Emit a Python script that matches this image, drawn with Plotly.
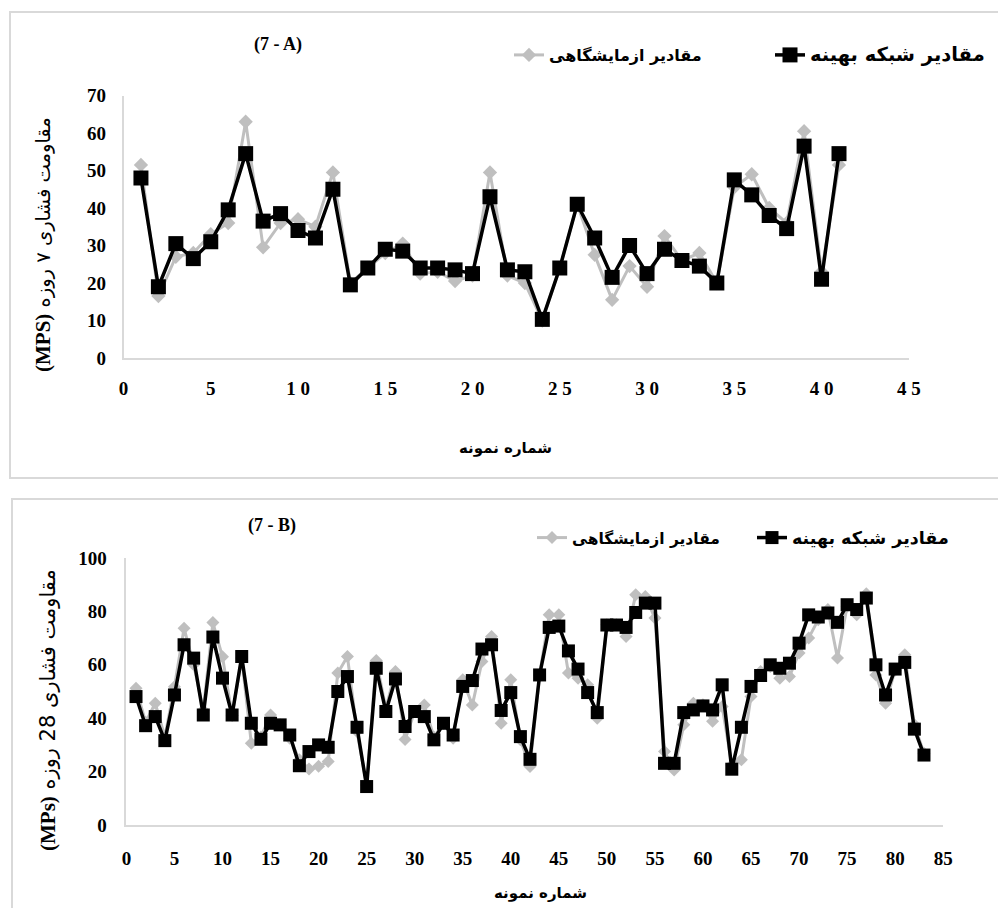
import plotly.graph_objects as go

# ---------------- data ----------------
A_x = list(range(1, 42))
A_exp = [51.5, 16.5, 27, 28, 33, 36, 63, 29.5, 36, 37, 35, 49.5, 20, 24, 28, 30.5, 22.5, 23, 20.5, 22,
         49.5, 22, 20, 10, 24, 41, 27.5, 15.5, 24.5, 19, 32.5, 26, 28, 20, 45.5, 49, 40, 36, 60.5, 23, 51.5]
A_net = [48, 19, 30.5, 26.5, 31, 39.5, 54.5, 36.5, 38.5, 34, 32, 45, 19.5, 24, 29, 28.5, 24, 24, 23.5, 22.5,
         43, 23.5, 23, 10.3, 24, 41, 32, 21.5, 30, 22.5, 29, 26, 24.5, 20, 47.5, 43.5, 38, 34.5, 56.5, 21, 54.5]
A_xticks = [0, 5, 10, 15, 20, 25, 30, 35, 40, 45]
A_xticktext = ["0", "5", "1 0", "1 5", "2 0", "2 5", "3 0", "3 5", "4 0", "4 5"]

B_x = list(range(1, 84))
B_net = [48.1, 37.2, 40.6, 31.6, 48.7, 67.5, 62.5, 41.2, 70.4, 55, 41.2, 63.1, 38.1, 32.1, 38.1, 37.5, 33.7,
         22.2, 27.5, 30, 29.1, 50, 55.6, 36.6, 14.4, 58.7, 42.5, 54.7, 36.9, 42.5, 40.6, 31.9, 38.1, 33.7,
         51.9, 54.1, 65.9, 67.5, 42.9, 49.6, 33.1, 24.6, 56.2, 74, 74.5, 65.2, 58.4, 49.6, 42.1, 74.9, 74.9,
         74, 79.6, 83.1, 83.1, 23.1, 23.1, 42.1, 43.1, 44.6, 43.1, 52.5, 20.9, 36.6, 51.9, 56, 60, 58.7,
         60.6, 68.1, 78.7, 77.9, 79.4, 75.9, 82.5, 80.7, 85, 60, 48.7, 58.4, 60.9, 35.9, 26.2]
B_exp = [51.2, 38.5, 45.6, 33, 51.8, 73.7, 60, 43, 75.8, 63, 41, 62.5, 30.6, 33, 41.2, 37.5, 32.5,
         24.4, 21, 22, 23.8, 56.9, 63.1, 35, 15, 61.6, 43.7, 57.5, 32, 42.5, 44.9, 33, 38, 32.5,
         54.4, 44.9, 61.2, 70.6, 38.1, 54.4, 31.9, 21.9, 56.2, 78.7, 78.7, 56.9, 55, 52.5, 40, 75, 75,
         70.6, 86.2, 85.6, 77.5, 27.5, 20.6, 37.5, 45.6, 45, 38.9, 44.4, 22.5, 24.4, 48.1, 57.5, 59.4, 55,
         55.6, 64.4, 70, 76.9, 80.7, 62.5, 81.9, 78.7, 86.6, 56.2, 45.6, 58, 63.8, 37.5, 26.9]

name_exp = "مقادیر ازمایشگاهی"
name_net = "مقادیر شبکه بهینه"
title_A = "(7 - A)"
title_B = "(7 - B)"
xtitle = "شماره نمونه"
ytitle_A = "<span style='font-family:Liberation Serif;font-weight:bold;font-size:21px'>(MPS)</span> مقاومت فشاری ۷ روزه"
ytitle_B = "<span style='font-family:Liberation Serif;font-weight:bold;font-size:21px'>(MPs)</span> مقاومت فشاری 28 روزه"

# page is 1006x916; the html body has an 8px margin, so the figure is 990x900
OFF = 8
W, H = 990, 900
GRAY = "#BFBFBF"
AXC = "#D9D9D9"
PER = "DejaVu Sans"
SER = "Liberation Serif"


def px(x):
    return (x - OFF) / W


def py(y):
    return 1 - (y - OFF) / H


def big(s, size):
    return "<span style='font-size:%spx'>%s</span>" % (size, s)


fig = go.Figure()
fig.add_trace(go.Scatter(x=A_x, y=A_exp, name=name_exp, mode="lines+markers", xaxis="x", yaxis="y",
                         line=dict(color=GRAY, width=3), marker=dict(symbol="diamond", size=11, color=GRAY),
                         legend="legend", cliponaxis=False))
fig.add_trace(go.Scatter(x=A_x, y=A_net, name=big(name_net, 19.5), mode="lines+markers", xaxis="x", yaxis="y",
                         line=dict(color="black", width=3.5), marker=dict(symbol="square", size=15, color="black"),
                         legend="legend", cliponaxis=False))
fig.add_trace(go.Scatter(x=B_x, y=B_exp, name=name_exp, mode="lines+markers", xaxis="x2", yaxis="y2",
                         line=dict(color=GRAY, width=3), marker=dict(symbol="diamond", size=10, color=GRAY),
                         legend="legend2", cliponaxis=False))
fig.add_trace(go.Scatter(x=B_x, y=B_net, name=big(name_net, 17.5), mode="lines+markers", xaxis="x2", yaxis="y2",
                         line=dict(color="black", width=3.5), marker=dict(symbol="square", size=13, color="black"),
                         legend="legend2", cliponaxis=False))

tickf = dict(family=SER, size=19, color="black", weight="bold")
common = dict(showgrid=False, zeroline=False, showline=True, linecolor=AXC, linewidth=1.5, ticks="",
              tickfont=tickf, fixedrange=True, automargin=False)

ann_base = dict(xref="paper", yref="paper", showarrow=False, xanchor="center", yanchor="middle")

fig.update_layout(
    width=W, height=H, margin=dict(l=0, r=0, t=0, b=0, autoexpand=False),
    paper_bgcolor="white", plot_bgcolor="white",
    xaxis=dict(domain=[px(123.5), px(908.8)], range=[0, 45], tickmode="array", tickvals=A_xticks,
               ticktext=A_xticktext, anchor="y", ticklabelstandoff=12, **common),
    yaxis=dict(domain=[py(358), py(95.5)], range=[0, 70], dtick=10, anchor="x", ticklabelstandoff=12, **common),
    xaxis2=dict(domain=[px(126.4), px(943.2)], range=[0, 85], dtick=5, anchor="y2", ticklabelstandoff=15, **common),
    yaxis2=dict(domain=[py(825), py(558)], range=[0, 100], dtick=20, anchor="x2", ticklabelstandoff=14, **common),
    legend=dict(orientation="h", x=px(509), y=py(55), xanchor="left", yanchor="middle",
                font=dict(family=PER, size=16, color="black", weight="bold"), bgcolor="rgba(0,0,0,0)",
                traceorder="normal", entrywidth=216),
    legend2=dict(orientation="h", x=px(532), y=py(538), xanchor="left", yanchor="middle",
                 font=dict(family=PER, size=15.5, color="black", weight="bold"), bgcolor="rgba(0,0,0,0)",
                 traceorder="normal", entrywidth=175),
    showlegend=True,
    shapes=[
        dict(type="rect", xref="paper", yref="paper", x0=px(10), x1=px(1010), y0=py(478), y1=py(12),
             line=dict(color=AXC, width=2), layer="below"),
        dict(type="rect", xref="paper", yref="paper", x0=px(12), x1=px(1010), y0=py(925), y1=py(499),
             line=dict(color=AXC, width=2), layer="below"),
    ],
    annotations=[
        dict(text=title_A, x=px(278), y=py(45), font=dict(family=SER, size=18, color="black", weight="bold"),
             **ann_base),
        dict(text=title_B, x=px(272), y=py(525), font=dict(family=SER, size=18, color="black", weight="bold"),
             **ann_base),
        dict(text=xtitle, x=px(505), y=py(448), font=dict(family=PER, size=15, color="black", weight="bold"),
             **ann_base),
        dict(text=xtitle, x=px(540), y=py(893), font=dict(family=PER, size=15, color="black", weight="bold"),
             **ann_base),
        dict(text=ytitle_A, x=px(43), y=py(245), textangle=-90,
             font=dict(family=PER, size=19.5, color="black"), **ann_base),
        dict(text=ytitle_B, x=px(48), y=py(710), textangle=-90,
             font=dict(family=PER, size=21, color="black"), **ann_base),
    ],
)

fig.write_html("out.html")
